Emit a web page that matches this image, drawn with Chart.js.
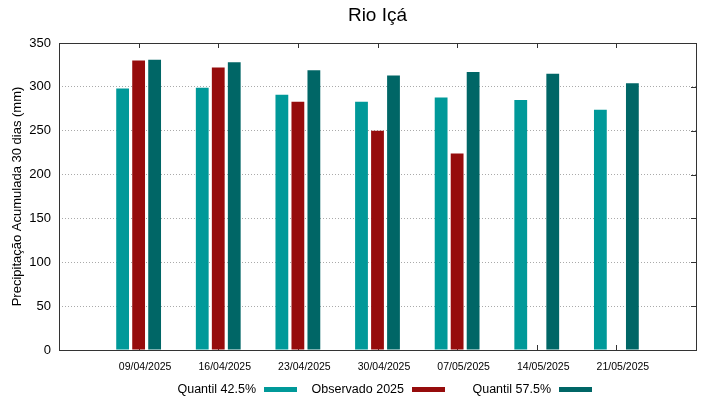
<!DOCTYPE html>
<html>
<head>
<meta charset="utf-8">
<script src="https://cdn.jsdelivr.net/npm/chart.js@4/dist/chart.umd.min.js"></script>
<style>
  body { margin: 0; background: #fff; font-family: "Liberation Sans", Arial, sans-serif; }
  #wrap { position: relative; width: 719px; height: 399px; }
  #title { position: absolute; left: 59px; width: 637px; top: 5px; text-align: center; font-size: 19px; line-height: 19px; color: #000; }
  .leg { position: absolute; top: 381px; width: 148px; height: 16px; display: flex; align-items: center; justify-content: flex-end; font-size: 12.5px; color: #000; }
  .leg span.sw { display: inline-block; width: 33px; height: 5px; margin-left: 8px; }
</style>
</head>
<body>
<div id="wrap">
  <canvas id="chart" width="719" height="399"></canvas>
  <div id="title">Rio Içá</div>
  <div class="leg" style="left:149px">Quantil 42.5%<span class="sw" style="background:#009999"></span></div>
  <div class="leg" style="left:297px">Observado 2025<span class="sw" style="background:#960c0c"></span></div>
  <div class="leg" style="left:444px">Quantil 57.5%<span class="sw" style="background:#006666"></span></div>
</div>
<script>
// dados
const datas = ['09/04/2025', '16/04/2025', '23/04/2025', '30/04/2025', '07/05/2025', '14/05/2025', '21/05/2025'];
const quantil425 = [298, 299, 291, 283, 288, 285, 274];
const observado = [330, 322, 283, 250, 224, null, null];
const quantil575 = [331, 328, 319, 313, 317, 315, 304];
const yTicks = [0, 50, 100, 150, 200, 250, 300, 350];

// uma categoria vazia em cada ponta, como no gnuplot
const labels = [''].concat(datas, ['']);
const pad = arr => [null].concat(arr, [null]);

const boxPlugin = {
    id: 'box',
    beforeDatasetsDraw(chart) {
        const ctx = chart.ctx;
        const a = chart.chartArea;
        const x = chart.scales.x, y = chart.scales.y;
        ctx.save();
        ctx.strokeStyle = '#333';
        ctx.lineWidth = 1;
        ctx.beginPath();
        for (let i = 1; i <= datas.length; i++) {
            const px = Math.round(x.getPixelForValue(i)) + 0.5;
            ctx.moveTo(px, a.top); ctx.lineTo(px, a.top + 5);
            ctx.moveTo(px, a.bottom); ctx.lineTo(px, a.bottom - 5);
        }
        yTicks.forEach(v => {
            const py = Math.round(y.getPixelForValue(v)) + 0.5;
            ctx.moveTo(a.right, py); ctx.lineTo(a.right - 5, py);
        });
        ctx.stroke();
        ctx.restore();
    },
    afterDatasetsDraw(chart) {
        const ctx = chart.ctx;
        const a = chart.chartArea;
        ctx.save();
        ctx.strokeStyle = '#333';
        ctx.lineWidth = 1;
        ctx.strokeRect(Math.round(a.left) + 0.5, Math.round(a.top) + 0.5,
            Math.round(a.right - a.left), Math.round(a.bottom - a.top));
        ctx.restore();
    }
};

const ctx = document.getElementById('chart').getContext('2d');
const chart = new Chart(ctx, {
    type: 'bar',
    data: {
        labels: labels,
        datasets: [
            { label: 'Quantil 42.5%', data: pad(quantil425), backgroundColor: '#009999' },
            { label: 'Observado 2025', data: pad(observado), backgroundColor: '#960c0c' },
            { label: 'Quantil 57.5%', data: pad(quantil575), backgroundColor: '#006666' }
        ]
    },
    options: {
        responsive: false,
        animation: false,
        categoryPercentage: 0.6028,
        barPercentage: 0.8,
        layout: { padding: { top: 43, right: 23, bottom: 19, left: 0 } },
        plugins: {
            legend: { display: false },
            tooltip: { enabled: false }
        },
        scales: {
            x: {
                offset: false,
                grid: { display: false, drawTicks: false },
                border: { display: false },
                ticks: {
                    autoSkip: false,
                    maxRotation: 0,
                    padding: 11,
                    labelOffset: 6.5,
                    color: '#000',
                    font: { family: 'Liberation Sans', size: 10.5 }
                },
                afterFit(scale) { scale.height = 30; }
            },
            y: {
                min: 0,
                max: 350,
                afterBuildTicks(scale) { scale.ticks = yTicks.map(v => ({ value: v })); },
                grid: { color: '#aaaaaa', lineWidth: 1, drawTicks: false },
                border: { display: false, dash: [1, 2] },
                ticks: {
                    padding: 8,
                    color: '#000',
                    font: { family: 'Liberation Sans', size: 13 }
                },
                title: {
                    display: true,
                    text: 'Precipitação Acumulada 30 dias (mm)',
                    color: '#000',
                    font: { family: 'Liberation Sans', size: 13 },
                    padding: { top: 10, bottom: 0 }
                },
                afterFit(scale) { scale.width = 59; }
            }
        }
    },
    plugins: [boxPlugin]
});
</script>
</body>
</html>
